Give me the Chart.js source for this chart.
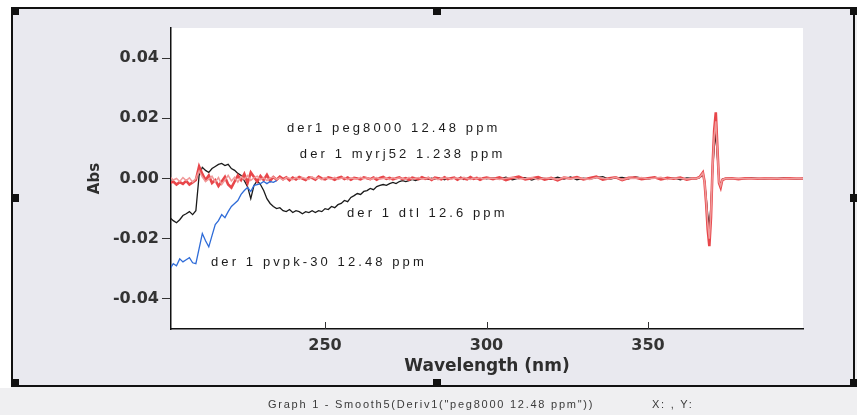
<!DOCTYPE html>
<html>
<head>
<meta charset="utf-8">
<script src="https://cdn.jsdelivr.net/npm/chart.js@4/dist/chart.umd.min.js"></script>
<style>
  html, body { margin: 0; padding: 0; background: #ffffff; }
  canvas { display: block; }
</style>
</head>
<body>
<canvas id="c" width="857" height="415"></canvas>
<script>
// ---- data (wavelength in nm, derivative absorbance) ----
const wavelengths = [
  202,203,204,205,206,207,208,209,210,211,212,213,214,215,216,217,218,219,220,221,
  222,223,224,225,226,227,228,229,230,231,232,233,234,235,236,237,238,239,240,241,
  242,243,244,245,246,247,248,249,250,251,252,253,254,255,256,257,258,259,260,261,
  262,263,264,265,266,267,268,269,270,271,272,273,274,275,276,277,278,279,280,281,
  282,283,284,285,286,287,288,289,290,291,292,293,294,295,296,297,298,299,300,
  302,304,306,308,310,312,314,316,318,320,322,324,326,328,330,332,334,336,338,340,
  342,344,346,348,350,352,354,356,358,360,362,364,
  365,366,367,367.5,368,368.5,369,369.5,370,370.5,371,371.5,372,372.5,373,374,
  376,378,380,382,384,386,388,390,392,394,396,398
];

const peg8000 = [
  -0.0015,-0.0010,-0.0020,-0.0012,-0.0018,-0.0008,-0.0020,-0.0013,-0.0005,0.0040,
  0.0015,-0.0005,0.0010,-0.0015,-0.0005,-0.0025,-0.0010,0.0005,-0.0020,-0.0030,
  -0.0010,0.0010,-0.0005,0.0015,-0.0015,0.0020,0.0005,-0.0010,0.0008,-0.0005,
  0.0012,-0.0008,0.0005,-0.0004,0.0006,-0.0002,0.0004,-0.0006,0.0003,-0.0003,
  0.0005,0.0000,-0.0005,0.0004,0.0002,-0.0004,0.0006,0.0000,-0.0003,0.0004,
  0.0001,-0.0004,0.0002,0.0005,-0.0002,0.0003,-0.0004,0.0002,0.0000,-0.0003,
  0.0004,0.0001,-0.0002,0.0003,-0.0004,0.0002,0.0005,-0.0001,0.0002,-0.0003,
  0.0001,0.0004,-0.0002,0.0001,-0.0004,0.0003,0.0000,-0.0002,0.0004,-0.0001,
  0.0002,-0.0005,0.0003,0.0001,-0.0003,0.0004,-0.0002,0.0001,0.0003,-0.0004,
  0.0002,0.0000,-0.0003,0.0005,-0.0001,0.0002,-0.0004,0.0001,0.0003,
  -0.0002,0.0004,-0.0005,0.0002,0.0006,-0.0003,0.0001,0.0005,-0.0004,0.0002,
  -0.0006,0.0003,0.0000,0.0005,-0.0003,0.0002,0.0006,-0.0004,0.0001,0.0004,
  -0.0005,0.0002,0.0003,-0.0002,0.0001,0.0004,-0.0003,0.0002,-0.0001,0.0003,
  -0.0004,0.0001,
  0.0000,0.0005,0.0020,-0.0010,-0.0080,-0.0170,-0.0225,-0.0130,0.0040,0.0160,
  0.0220,0.0100,-0.0015,-0.0030,-0.0005,0.0000,
  0.0001,-0.0002,0.0001,0.0000,-0.0001,0.0001,0.0000,-0.0001,0.0000,0.0001,0.0000,0.0000
];

const myrj52 = [
  0.0005,-0.0005,0.0000,-0.0010,0.0003,-0.0007,0.0002,-0.0012,0.0000,0.0025,
  0.0005,-0.0010,-0.0002,0.0008,-0.0012,0.0003,-0.0020,-0.0005,0.0010,-0.0008,
  0.0004,-0.0012,0.0006,-0.0003,0.0010,-0.0006,0.0002,0.0008,-0.0004,0.0003,
  -0.0007,0.0002,0.0005,-0.0003,0.0002,-0.0005,0.0003,0.0001,-0.0004,0.0004,
  -0.0002,0.0003,0.0000,-0.0003,0.0005,-0.0001,0.0002,-0.0004,0.0003,0.0000,
  -0.0002,0.0004,-0.0003,0.0001,0.0003,-0.0004,0.0002,0.0000,-0.0002,0.0004,
  -0.0001,0.0002,-0.0003,0.0001,0.0003,-0.0002,0.0000,0.0002,-0.0004,0.0003,
  -0.0001,0.0002,0.0000,-0.0003,0.0004,-0.0002,0.0001,0.0003,-0.0002,0.0000,
  0.0003,-0.0002,0.0001,-0.0004,0.0002,0.0000,0.0003,-0.0003,0.0001,0.0002,
  -0.0002,0.0004,0.0000,-0.0003,0.0002,-0.0001,0.0003,-0.0002,0.0000,
  0.0002,-0.0003,0.0001,0.0004,-0.0002,0.0000,0.0003,-0.0004,0.0002,0.0001,
  -0.0003,0.0004,-0.0001,0.0002,0.0000,-0.0003,0.0003,0.0001,-0.0002,0.0004,
  -0.0004,0.0002,0.0000,0.0003,-0.0002,0.0001,0.0004,-0.0003,0.0002,0.0000,
  -0.0002,0.0001,
  0.0000,0.0004,0.0018,-0.0010,-0.0070,-0.0150,-0.0200,-0.0110,0.0035,0.0140,
  0.0190,0.0090,-0.0012,-0.0025,-0.0004,0.0000,
  0.0000,0.0001,0.0000,-0.0001,0.0000,0.0001,0.0000,0.0000,-0.0001,0.0000,0.0001,0.0000
];

const dtl = [
  -0.0130,-0.0140,-0.0147,-0.0137,-0.0123,-0.0117,-0.0110,-0.0120,-0.0107,0.0010,
  0.0037,0.0027,0.0020,0.0033,0.0040,0.0047,0.0050,0.0043,0.0047,0.0033,
  0.0027,0.0017,0.0010,-0.0007,-0.0027,-0.0067,-0.0023,-0.0007,-0.0020,-0.0040,
  -0.0067,-0.0083,-0.0093,-0.0100,-0.0097,-0.0107,-0.0110,-0.0103,-0.0113,-0.0107,
  -0.0110,-0.0117,-0.0110,-0.0113,-0.0107,-0.0113,-0.0107,-0.0110,-0.0100,-0.0103,
  -0.0093,-0.0097,-0.0087,-0.0083,-0.0073,-0.0077,-0.0063,-0.0057,-0.0050,-0.0053,
  -0.0043,-0.0040,-0.0033,-0.0037,-0.0027,-0.0023,-0.0020,-0.0023,-0.0017,-0.0013,
  -0.0017,-0.0010,-0.0007,-0.0010,-0.0007,-0.0003,-0.0007,-0.0003,0.0000,0.0002,
  -0.0003,0.0001,-0.0002,0.0003,0.0000,-0.0004,0.0002,-0.0001,0.0003,-0.0002,
  0.0004,-0.0003,0.0001,-0.0002,0.0003,0.0000,-0.0003,0.0002,-0.0001,
  0.0003,-0.0002,0.0004,-0.0004,0.0001,0.0003,-0.0005,0.0002,0.0000,-0.0003,
  0.0004,-0.0002,0.0005,-0.0004,0.0001,-0.0002,0.0003,0.0006,-0.0003,0.0002,
  0.0004,-0.0001,0.0005,0.0002,-0.0003,0.0004,0.0001,-0.0002,0.0003,-0.0004,
  0.0002,0.0000,
  0.0000,0.0003,0.0012,-0.0008,-0.0060,-0.0120,-0.0160,-0.0090,0.0030,0.0100,
  0.0150,0.0070,-0.0010,-0.0020,-0.0003,0.0000,
  0.0000,-0.0001,0.0000,0.0001,0.0000,-0.0001,0.0000,0.0000,0.0001,0.0000,-0.0001,0.0000
];

const pvpkWavelengths = [
  202,203,204,205,206,207,208,209,210,211,212,213,214,215,216,217,218,219,
  220,221,222,223,224,225,226,227,228,229,230,231,232,233,234,235
];
const pvpk30 = [
  -0.0300,-0.0283,-0.0290,-0.0267,-0.0277,-0.0270,-0.0263,-0.0280,-0.0283,-0.0233,
  -0.0183,-0.0207,-0.0227,-0.0190,-0.0153,-0.0140,-0.0120,-0.0130,-0.0110,-0.0093,
  -0.0083,-0.0073,-0.0053,-0.0040,-0.0030,-0.0043,-0.0023,-0.0020,-0.0017,-0.0010,
  -0.0017,-0.0010,-0.0013,-0.0007
];

const xTickValues = [250, 300, 350];
const yTickValues = [-0.04, -0.02, 0.00, 0.02, 0.04];

const seriesLabels = [
  { text: 'der1 peg8000 12.48 ppm', x: 238.2, y: 0.0167 },
  { text: 'der 1 myrj52 1.238 ppm', x: 242.2, y: 0.0080 },
  { text: 'der 1 dtl 12.6 ppm', x: 256.8, y: -0.0117 },
  { text: 'der 1 pvpk-30 12.48 ppm', x: 214.7, y: -0.0280 }
];
const captionText = 'Graph 1 - Smooth5(Deriv1("peg8000 12.48 ppm"))';
const captionXY = 'X: , Y:';

const zip = (xs, ys) => ys.map((v, i) => ({ x: xs[i], y: v }));

const W = 857, H = 415;

const decorPlugin = {
  id: 'decor',
  beforeDraw(chart) {
    const ctx = chart.ctx;
    const a = chart.chartArea;
    ctx.save();
    ctx.fillStyle = '#efeff1';
    ctx.fillRect(0, 0, W, H);
    ctx.fillStyle = '#ffffff';
    ctx.fillRect(0, 0, W, 7);
    ctx.fillRect(0, 0, 11, 388);
    ctx.fillStyle = '#e9e9ef';
    ctx.fillRect(12, 8, 842, 378);
    ctx.fillStyle = '#ffffff';
    ctx.fillRect(a.left, a.top, a.right - a.left, a.bottom - a.top);
    ctx.restore();
  },
  afterDraw(chart) {
    const ctx = chart.ctx;
    const xs = chart.scales.x, ys = chart.scales.y;
    const a = chart.chartArea;
    ctx.save();
    // inward x tick marks
    ctx.strokeStyle = '#333';
    ctx.lineWidth = 1;
    xs.ticks.forEach(t => {
      const px = Math.round(xs.getPixelForValue(t.value)) + 0.5;
      ctx.beginPath();
      ctx.moveTo(px, a.bottom);
      ctx.lineTo(px, a.bottom - 7);
      ctx.stroke();
    });
    // series labels
    ctx.fillStyle = '#1c1c1c';
    ctx.font = '13px "Liberation Sans", Arial, sans-serif';
    if ('letterSpacing' in ctx) ctx.letterSpacing = '3.1px';
    ctx.textAlign = 'left';
    ctx.textBaseline = 'middle';
    seriesLabels.forEach(l => {
      ctx.fillText(l.text, xs.getPixelForValue(l.x), ys.getPixelForValue(l.y));
    });
    // caption
    ctx.fillStyle = '#3a3a3a';
    ctx.font = '11px "Liberation Sans", Arial, sans-serif';
    if ('letterSpacing' in ctx) ctx.letterSpacing = '1.75px';
    ctx.fillText(captionText, 268, 405);
    ctx.fillText(captionXY, 652, 405);
    if ('letterSpacing' in ctx) ctx.letterSpacing = '0px';
    // outer frame
    ctx.strokeStyle = '#111';
    ctx.lineWidth = 2;
    ctx.strokeRect(12, 8, 842, 378);
    // handles
    ctx.fillStyle = '#111';
    const hs = 8;
    [[11,7],[433,7],[850,7],[11,194],[850,194],[11,379],[433,379],[850,379]].forEach(p => {
      ctx.fillRect(p[0], p[1], hs, hs);
    });
    ctx.restore();
  }
};

new Chart(document.getElementById('c'), {
  type: 'line',
  data: {
    datasets: [
      { label: 'der 1 pvpk-30 12.48 ppm', data: zip(pvpkWavelengths, pvpk30), borderColor: '#2f6cd8', borderWidth: 1.3 },
      { label: 'der 1 myrj52 1.238 ppm', data: zip(wavelengths, myrj52), borderColor: '#f09a9a', borderWidth: 1.5 },
      { label: 'der1 peg8000 12.48 ppm', data: zip(wavelengths, peg8000), borderColor: '#e8464a', borderWidth: 2.6 },
      { label: 'der 1 dtl 12.6 ppm', data: zip(wavelengths, dtl), borderColor: '#1a1a1a', borderWidth: 1.3 }
    ]
  },
  options: {
    responsive: false,
    animation: false,
    devicePixelRatio: 1,
    layout: { padding: { left: 80, top: 28, right: 54, bottom: 36 } },
    elements: { point: { radius: 0 }, line: { tension: 0 } },
    plugins: { legend: { display: false }, tooltip: { enabled: false } },
    scales: {
      x: {
        type: 'linear',
        min: 202.3,
        max: 398,
        afterBuildTicks: s => { s.ticks = xTickValues.map(v => ({ value: v })); },
        afterFit: s => { s.height = 50; },
        grid: { display: true, drawOnChartArea: false, drawTicks: false },
        border: { display: true, color: '#111', width: 1.5 },
        ticks: {
          padding: 7,
          color: '#333',
          font: { family: '"DejaVu Sans", sans-serif', size: 16, weight: 'bold' },
          maxRotation: 0,
          callback: v => String(v)
        },
        title: {
          display: true,
          text: 'Wavelength (nm)',
          color: '#2e2e2e',
          font: { family: '"DejaVu Sans", sans-serif', size: 17, weight: 'bold' },
          padding: { top: 0, bottom: 2 }
        }
      },
      y: {
        type: 'linear',
        min: -0.05,
        max: 0.05,
        afterBuildTicks: s => { s.ticks = yTickValues.map(v => ({ value: v })); },
        afterFit: s => { s.width = 91; },
        grid: { display: true, drawOnChartArea: false, drawTicks: true, tickLength: 9, color: '#333' },
        border: { display: true, color: '#111', width: 1.5 },
        ticks: {
          padding: 3,
          color: '#333',
          font: { family: '"DejaVu Sans", sans-serif', size: 16, weight: 'bold' },
          callback: v => Number(v).toFixed(2)
        },
        title: {
          display: true,
          text: 'Abs',
          color: '#2e2e2e',
          font: { family: '"DejaVu Sans", sans-serif', size: 15, weight: 'bold' },
          padding: { top: 6, bottom: 0 }
        }
      }
    }
  },
  plugins: [decorPlugin]
});
</script>
</body>
</html>
